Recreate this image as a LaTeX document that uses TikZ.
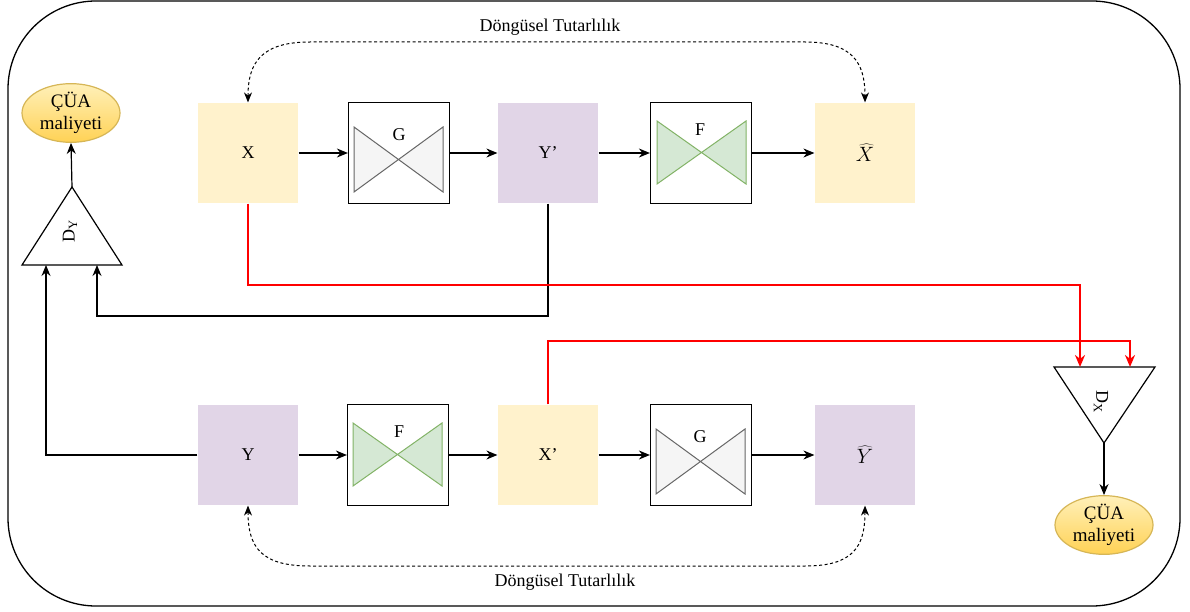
\documentclass[tikz,border=0pt]{standalone}
\usepackage{fontspec}
\setmainfont{Liberation Serif}
\usetikzlibrary{arrows.meta,shapes.geometric}

\definecolor{boxYellow}{RGB}{255,242,204}
\definecolor{boxPurple}{RGB}{225,213,231}
\definecolor{tieGreyFill}{RGB}{245,245,245}
\definecolor{tieGreyLine}{RGB}{102,102,102}
\definecolor{tieGreenFill}{RGB}{213,232,212}
\definecolor{tieGreenLine}{RGB}{130,179,102}
\definecolor{costTop}{RGB}{255,240,185}
\definecolor{costBottom}{RGB}{255,210,85}
\definecolor{costLine}{RGB}{214,182,86}
\definecolor{lossRed}{RGB}{255,0,0}

\tikzset{every picture/.style={line width=1.2pt}}
\tikzset{
	txt/.style={font=\fontsize{18}{21}\selectfont, inner sep=0pt},
	hat/.style={font=\fontsize{22}{24}\selectfont, inner sep=0pt},
	imgbox/.style={txt, minimum width=100, minimum height=100, draw=none},
	netbox/.style={draw=black, fill=white, minimum width=101, minimum height=101, inner sep=0pt},
	tieG/.style={draw=tieGreyLine, fill=tieGreyFill, line join=miter},
	tieF/.style={draw=tieGreenLine, fill=tieGreenFill, line join=miter},
	cost/.style={ellipse, draw=costLine, top color=costTop, bottom color=costBottom,
		minimum width=98, minimum height=56, inner sep=0pt, align=center,
		font=\fontsize{19}{22}\selectfont},
	arr/.style={-{Stealth[length=11pt,width=9pt]}},
	redarr/.style={draw=lossRed, line width=2.2pt, -{Stealth[length=12pt,width=10pt]}},
	cycarr/.style={{Stealth[length=10pt,width=8pt]}-{Stealth[length=10pt,width=8pt]}, line width=1pt, dash pattern=on 3pt off 2.5pt}
}

\begin{document}
\begin{tikzpicture}[x=1pt,y=1pt,yscale=-1,xscale=1]
	\useasboundingbox (0,0) rectangle (1190,612);

	%Shape: Rounded Rect (frame)
	\draw [line width=1.3pt, rounded corners=88] (8,1) rectangle (1180,606) ;

	%Image boxes, top row
	\node [imgbox, fill=boxYellow] (X) at (248,153) {X};
	\node [netbox] (G1) at (399,153) {};
	\node [imgbox, fill=boxPurple] (Yp) at (548,153) {Y'};
	\node [netbox] (F1) at (701,153) {};
	\node [imgbox, fill=boxYellow] (Xh) at (865,153) {};

	%Image boxes, bottom row
	\node [imgbox, fill=boxPurple] (Y) at (248,455) {Y};
	\node [netbox] (F2) at (398,455) {};
	\node [imgbox, fill=boxYellow] (Xp) at (548,455) {X'};
	\node [netbox] (G2) at (701,455) {};
	\node [imgbox, fill=boxPurple] (Yh) at (865,455) {};

	% Text Node
	\node [hat] (XhLbl) at (Xh) {$\widehat{X}$};
	% Text Node
	\node [hat] (YhLbl) at (Yh) {$\widehat{Y}$};

	%Shape: Bowtie (generators)
	\draw [tieG, line width=1pt] (354,127) -- (443,192) -- (443,127) -- (354,192) -- cycle ;
	\draw [tieF, line width=1pt] (657,121) -- (746,184) -- (746,121) -- (657,184) -- cycle ;
	\draw [tieF, line width=1pt] (353,423) -- (442,486) -- (442,423) -- (353,486) -- cycle ;
	\draw [tieG, line width=1pt] (656,429) -- (745,494) -- (745,429) -- (656,494) -- cycle ;

	% Text Node
	\node [txt] (G1lbl) at (399,135) {G};
	% Text Node
	\node [txt] (F1lbl) at (700,130) {F};
	% Text Node
	\node [txt] (F2lbl) at (399,432) {F};
	% Text Node
	\node [txt] (G2lbl) at (700,437) {G};

	%Straight Lines (row arrows)
	\draw [arr] (X) -- (G1) ;
	\draw [arr] (G1) -- (Yp) ;
	\draw [arr] (Yp) -- (F1) ;
	\draw [arr] (F1) -- (Xh) ;
	\draw [arr] (Y) -- (F2) ;
	\draw [arr] (F2) -- (Xp) ;
	\draw [arr] (Xp) -- (G2) ;
	\draw [arr] (G2) -- (Yh) ;

	%Shape: Triangle D_Y
	\coordinate (dyTop) at (72,187);
	\coordinate (dyL) at (22,265);
	\coordinate (dyR) at (122,265);
	\draw (dyTop) -- (dyR) -- (dyL) -- cycle ;
	\node [txt, rotate=90] (dyLbl) at (70,231) {D\textsubscript{Y}};

	%Shape: Triangle D_X
	\coordinate (dxBot) at (1104,443);
	\coordinate (dxL) at (1054,367);
	\coordinate (dxR) at (1155,367);
	\draw (dxBot) -- (dxR) -- (dxL) -- cycle ;
	\node [txt, rotate=-90] (dxLbl) at (1101,402) {D\textsubscript{X}};

	%Shape: Ellipse (costs)
	\node [cost] (costY) at (71,113) {ÇÜA\\maliyeti};
	\node [cost] (costX) at (1104,525) {ÇÜA\\maliyeti};
	\draw [arr] (dyTop) -- (costY.south) ;
	\draw [arr] (dxBot) -- (costX.north) ;

	%Connectors into D_Y
	\coordinate (dyIn1) at (46,265);
	\coordinate (dyIn2) at (97,265);
	\coordinate (dyTurn) at (97,316);
	\draw [arr] (Y.west) -| (dyIn1) ;
	\draw [arr] (Yp.south) |- (dyTurn) -- (dyIn2) ;

	%Connectors into D_X
	\coordinate (dxIn1) at (1080,367);
	\coordinate (dxIn2) at (1130,367);
	\coordinate (dxTurn1) at (1080,285);
	\coordinate (dxTurn2) at (1130,341);
	\draw [redarr] (X.south) |- (dxTurn1) -- (dxIn1) ;
	\draw [redarr] (Xp.north) |- (dxTurn2) -- (dxIn2) ;

	%Curve Lines (cycle consistency)
	\draw [cycarr] (X.north) .. controls (248,62) and (262,42) .. (310,42) -- (805,42) .. controls (852,42) and (865,62) .. (Xh.north) ;
	\draw [cycarr] (Y.south) .. controls (248,548) and (262,566) .. (310,566) -- (805,566) .. controls (852,566) and (865,548) .. (Yh.south) ;

	% Text Node
	\node [txt] (cycTop) at (550,27) {Döngüsel Tutarlılık};
	% Text Node
	\node [txt] (cycBot) at (565,582) {Döngüsel Tutarlılık};

\end{tikzpicture}
\end{document}
